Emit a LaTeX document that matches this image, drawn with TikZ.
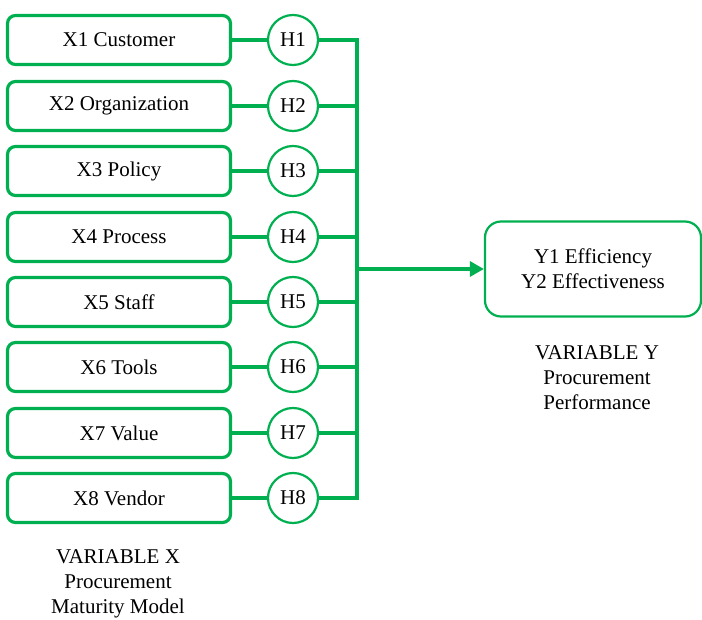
\documentclass[tikz,border=0pt]{standalone}
\usepackage{fontspec}
\setmainfont{Liberation Serif}
\usetikzlibrary{arrows.meta}
\definecolor{pgreen}{RGB}{0,176,80}
\begin{document}
\begin{tikzpicture}[x=1pt,y=-1pt,
  xbox/.style={draw=pgreen,line width=3.2pt,rounded corners=8pt,minimum width=223pt,minimum height=49pt,inner sep=0pt,font=\fontsize{21}{25}\selectfont},
  hcirc/.style={draw=pgreen,line width=2.2pt,circle,minimum size=50pt,inner sep=0pt,font=\fontsize{21}{25}\selectfont},
  ybox/.style={draw=pgreen,line width=2.2pt,rounded corners=16pt,minimum width=216pt,minimum height=95pt,inner sep=0pt,align=center,font=\fontsize{21}{25}\selectfont},
  lbl/.style={align=center,font=\fontsize{21}{25}\selectfont},
  conn/.style={draw=pgreen,line width=3.2pt}]
\useasboundingbox (0,0) rectangle (702,620);
\foreach \i/\t/\y in {1/X1 Customer/40,2/X2 Organization/106,3/X3 Policy/171,4/X4 Process/237,5/X5 Staff/302,6/X6 Tools/367,7/X7 Value/433,8/X8 Vendor/498}{
  \node[xbox] (x\i) at (119,\y) {\t};
  \node[hcirc] (h\i) at (293,\y) {H\i};
  \coordinate (b\i) at (357,\y);
  \draw[conn] (x\i.east) -- (h\i.west);
  \draw[conn] (h\i.east) -- (b\i);
}
\draw[conn,line cap=rect] (b1) -- (b8);
\node[ybox] (y) at (593,269) {Y1 Efficiency\\Y2 Effectiveness};
\coordinate (bm) at (357,269);
\draw[conn,-{Triangle[length=14pt,width=15pt]}] (bm) -- (y.west);
\node[lbl] (vy) at (597,378) {VARIABLE Y\\Procurement\\Performance};
\node[lbl] (vx) at (118,584) {VARIABLE X\\Procurement\\Maturity Model};
\end{tikzpicture}
\end{document}
